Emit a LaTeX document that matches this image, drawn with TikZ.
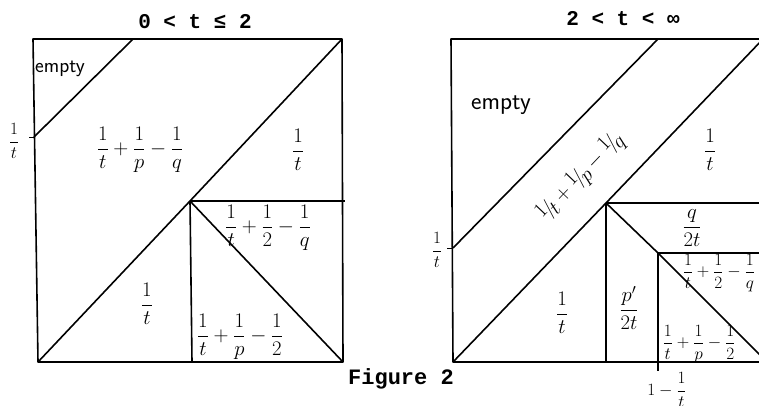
\documentclass[tikz,border=0pt]{standalone}
\usepackage{amsmath}
\usepackage{fontspec}
\setmonofont{Liberation Mono}
\usepackage{tikz}
\newcommand{\slfr}[2]{\raisebox{.5ex}{$#1$}\!/\!\raisebox{-.5ex}{$#2$}}

\begin{document}
\begin{tikzpicture}[x=1pt, y=-1pt, line width=1.6pt, line join=round,
  big/.style={font=\huge},
  sum/.style={font=\huge},
  sml/.style={font=\LARGE},
  word/.style={font=\sffamily\Huge},
  ttl/.style={font=\fontsize{21}{21}\selectfont\ttfamily\bfseries}]
\useasboundingbox (0,0) rectangle (759,405);
% left square, 0<t<=2
\coordinate (tlA) at (33,39);
\coordinate (trA) at (342,39);
\coordinate (brA) at (343,362);
\coordinate (blA) at (38,362);
\coordinate (mA) at (190,201);
\coordinate (rA) at (345,201);
\coordinate (dA) at (192,362);
\coordinate (uA) at (133,39);
\coordinate (kA) at (34,137);
\draw (tlA) -- (trA) -- (brA) -- (blA) -- cycle;
\draw (blA) -- (mA) -- (trA);
\draw (mA) -- (rA);
\draw (mA) -- (dA);
\draw (mA) -- (brA);
\draw (uA) -- (kA);
\draw[line width=1pt] (kA) -- ++(-5,0);
\node[ttl] (ttlA) at (195,22) {0 < t ≤ 2};
\node[word, font=\sffamily\huge] (emA) at (60,69) {empty};
\node[sml] (axA) at (14,141) {$\dfrac{1}{t}$};
\node[sum] (e1A) at (140,150) {$\dfrac{1}{t}+\dfrac{1}{p}-\dfrac{1}{q}$};
\node[big] (e2A) at (298,150) {$\dfrac{1}{t}$};
\node[sum] (e3A) at (268,228) {$\dfrac{1}{t}+\dfrac{1}{2}-\dfrac{1}{q}$};
\node[big] (e4A) at (147,304) {$\dfrac{1}{t}$};
\node[sum] (e5A) at (240,337) {$\dfrac{1}{t}+\dfrac{1}{p}-\dfrac{1}{2}$};
% right square, 2<t<infinity
\coordinate (tlB) at (451,39);
\coordinate (trB) at (763,39);
\coordinate (brB) at (763,362);
\coordinate (blB) at (453,362);
\coordinate (uB) at (658,39);
\coordinate (kB) at (453,248);
\coordinate (mB) at (606,203);
\coordinate (nB) at (658,253);
\coordinate (dB) at (606,362);
\coordinate (sB) at (658,371);
\coordinate (cB) at (767,362);
\draw (tlB) -- (trB) -- (brB) -- (blB) -- cycle;
\draw (blB) -- (mB) -- (trB);
\draw (uB) -- (kB);
\draw[line width=1pt] (kB) -- ++(-6,0);
\draw (mB) -- (trB |- mB);
\draw (mB) -- (dB);
\draw (mB) -- (nB) -- (trB |- nB);
\draw (nB) -- (sB);
\draw (nB) -- (cB);
\node[ttl] (ttlB) at (623,19) {2 < t < ∞};
\node[word] (emB) at (501,105) {empty};
\node[sml] (axB) at (437,250) {$\dfrac{1}{t}$};
\node[font=\huge, rotate=46.5, inner sep=0pt] (e1B) at (581,177)
  {$\slfr{1}{t}+\slfr{1}{p}-\slfr{1}{q}$};
\node[big] (e2B) at (710,150) {$\dfrac{1}{t}$};
\node[big, inner sep=1pt] (e3B) at (692,228) {$\dfrac{q}{2t}$};
\node[sml] (e4B) at (719,273) {$\dfrac{1}{t}+\dfrac{1}{2}-\dfrac{1}{q}$};
\node[big] (e5B) at (562,313) {$\dfrac{1}{t}$};
\node[big] (e6B) at (629,308) {$\dfrac{p'}{2t}$};
\node[sml] (e7B) at (699,344) {$\dfrac{1}{t}+\dfrac{1}{p}-\dfrac{1}{2}$};
\node[font=\LARGE, anchor=north, inner sep=0pt] (axB2) at (667,372) {$1-\dfrac{1}{t}$};
\node[font=\fontsize{22}{22}\selectfont\ttfamily\bfseries] (cap) at (401,379) {Figure 2};
\end{tikzpicture}
\end{document}
